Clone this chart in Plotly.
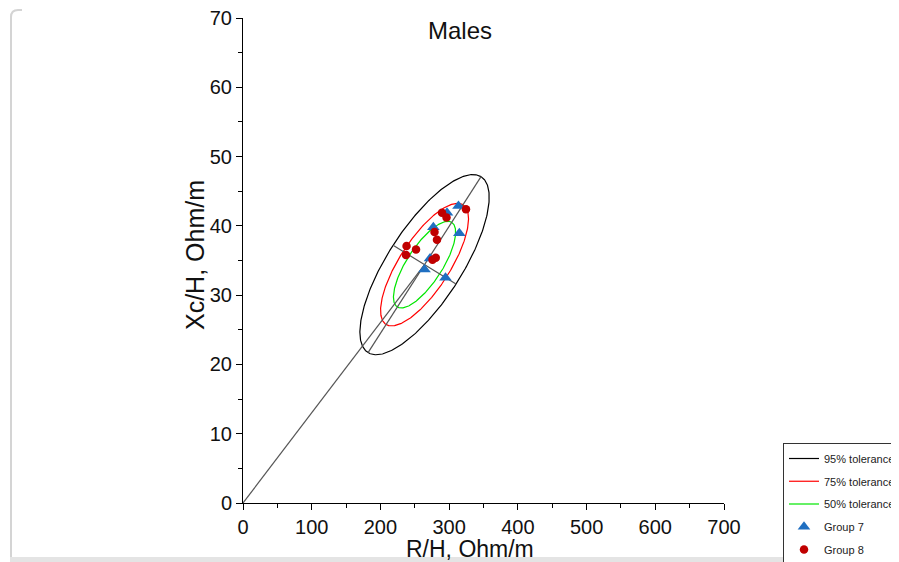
import numpy as np
import plotly.graph_objects as go

# ---------------- data ----------------
group7_r = [313.6, 296.9, 277.0, 314.8, 272.2, 264.2, 294.7]
group7_xc = [42.85, 41.9, 39.8, 38.95, 35.3, 33.7, 32.5]

group8_r = [324.5, 289.6, 296.2, 278.7, 282.3, 238.0, 251.8, 237.2, 280.5, 275.8]
group8_xc = [42.4, 41.9, 41.2, 39.1, 38.0, 37.1, 36.6, 35.8, 35.4, 35.1]

tolerance_levels = [0.95, 0.75, 0.50]
tolerance_labels = ["95% tolerance", "75% tolerance", "50% tolerance"]
tolerance_colors = ["#000000", "#ff0000", "#00e600"]

ellipse_center = (264.2, 34.4)        # mean R/H, Xc/H
major_semi_axis_95 = (82.2, 12.7)     # 95% ellipse semi-major vector
minor_semi_axis_95 = (45.8, -2.8)     # 95% ellipse semi-minor vector

x_ticks = [0, 100, 200, 300, 400, 500, 600, 700]
y_ticks = [0, 10, 20, 30, 40, 50, 60, 70]

title_text = "Males"
x_title = "R/H, Ohm/m"
y_title = "Xc/H, Ohm/m"

# ---------------- layout geometry ----------------
# the page body has an 8px margin, so the figure starts at (8, 8) of the window
OFF = 8
W, H = 899 - OFF, 562 - OFF
L, R, T, B = 243, 724, 18, 503  # plot area in window pixels


def px_x(p):
    return (p - L) / (R - L)


def px_y(p):
    return (B - p) / (B - T)


FONT = "Liberation Sans, Arial, sans-serif"

fig = go.Figure()

# tolerance ellipses
t = np.linspace(0, 2 * np.pi, 361)
q95 = -2 * np.log(1 - 0.95)
for lvl, lab, col in zip(tolerance_levels, tolerance_labels, tolerance_colors):
    s = np.sqrt((-2 * np.log(1 - lvl)) / q95)
    ex = ellipse_center[0] + s * (major_semi_axis_95[0] * np.cos(t) + minor_semi_axis_95[0] * np.sin(t))
    ey = ellipse_center[1] + s * (major_semi_axis_95[1] * np.cos(t) + minor_semi_axis_95[1] * np.sin(t))
    fig.add_trace(go.Scatter(x=ex, y=ey, mode="lines", name=lab,
                             line=dict(color=col, width=1.2), legendgroup=lab,
                             hoverinfo="skip"))

# axes of the 95% ellipse and the line from the origin
cx, cy = ellipse_center
axis_col = "#555555"
fig.add_trace(go.Scatter(x=[cx - major_semi_axis_95[0], cx + major_semi_axis_95[0]],
                         y=[cy - major_semi_axis_95[1], cy + major_semi_axis_95[1]],
                         mode="lines", line=dict(color=axis_col, width=1.2), showlegend=False))
fig.add_trace(go.Scatter(x=[cx - minor_semi_axis_95[0], cx + minor_semi_axis_95[0]],
                         y=[cy - minor_semi_axis_95[1], cy + minor_semi_axis_95[1]],
                         mode="lines", line=dict(color=axis_col, width=1.2), showlegend=False))
fig.add_trace(go.Scatter(x=[0, cx], y=[0, cy], mode="lines",
                         line=dict(color=axis_col, width=1.2), showlegend=False))

# groups
fig.add_trace(go.Scatter(x=group7_r, y=group7_xc, mode="markers", name="Group 7",
                         legendgroup="g7",
                         marker=dict(symbol="triangle-up", size=11, color="#1f6fc1")))
fig.add_trace(go.Scatter(x=group8_r, y=group8_xc, mode="markers", name="Group 8",
                         legendgroup="g8",
                         marker=dict(symbol="circle", size=8.5, color="#c00000")))

axis_common = dict(showgrid=False, zeroline=False, showline=True, linecolor="#000000",
                   linewidth=1, ticks="outside", ticklen=6, tickcolor="#000000",
                   ticklabeloverflow="allow",
                   tickfont=dict(family=FONT, size=20, color="#111111"))

fig.update_xaxes(range=[0, 700], tickvals=x_ticks, ticktext=[str(v) for v in x_ticks],
                 minor=dict(ticks="outside", ticklen=4, dtick=50, tick0=0,
                            tickcolor="#000000", showgrid=False),
                 **axis_common)
fig.update_yaxes(range=[0, 70], tickvals=y_ticks, ticktext=[str(v) for v in y_ticks],
                 minor=dict(ticks="outside", ticklen=4, dtick=5, tick0=0,
                            tickcolor="#000000", showgrid=False),
                 **axis_common)

annotations = [
    dict(text=title_text, x=px_x(460), y=px_y(30), xref="paper", yref="paper",
         showarrow=False, xanchor="center", yanchor="middle",
         font=dict(family=FONT, size=24, color="#111111")),
    dict(text=x_title, x=px_x(470), y=px_y(549), xref="paper", yref="paper",
         showarrow=False, xanchor="center", yanchor="middle",
         font=dict(family=FONT, size=23, color="#111111")),
    dict(text=y_title, x=px_x(195), y=px_y(255), xref="paper", yref="paper",
         showarrow=False, xanchor="center", yanchor="middle", textangle=-90,
         font=dict(family=FONT, size=25, color="#111111")),
]

shapes = [
    # light frame on the left with rounded top corner
    dict(type="path", xref="paper", yref="paper",
         path=f"M {px_x(11)},{px_y(570)} L {px_x(11)},{px_y(17)} Q {px_x(11)},{px_y(10)} {px_x(18)},{px_y(10)} L {px_x(22)},{px_y(10)}",
         line=dict(color="#d4d4d4", width=2)),
    # grey band at the bottom
    dict(type="rect", xref="paper", yref="paper",
         x0=px_x(10), x1=px_x(905), y0=px_y(557), y1=px_y(570),
         fillcolor="#e4e4e4", line=dict(width=0)),
]

fig.update_layout(
    width=W, height=H,
    margin=dict(l=L - OFF, r=(W + OFF) - R, t=T - OFF, b=(H + OFF) - B, autoexpand=False),
    paper_bgcolor="white", plot_bgcolor="white",
    showlegend=True,
    legend=dict(x=px_x(783), y=px_y(443), xanchor="left", yanchor="top",
                bgcolor="white", bordercolor="#333333", borderwidth=1,
                font=dict(family=FONT, size=11, color="#222222"),
                tracegroupgap=3.75, itemwidth=30),
    annotations=annotations,
    shapes=shapes,
)

fig.write_html("out.html")
